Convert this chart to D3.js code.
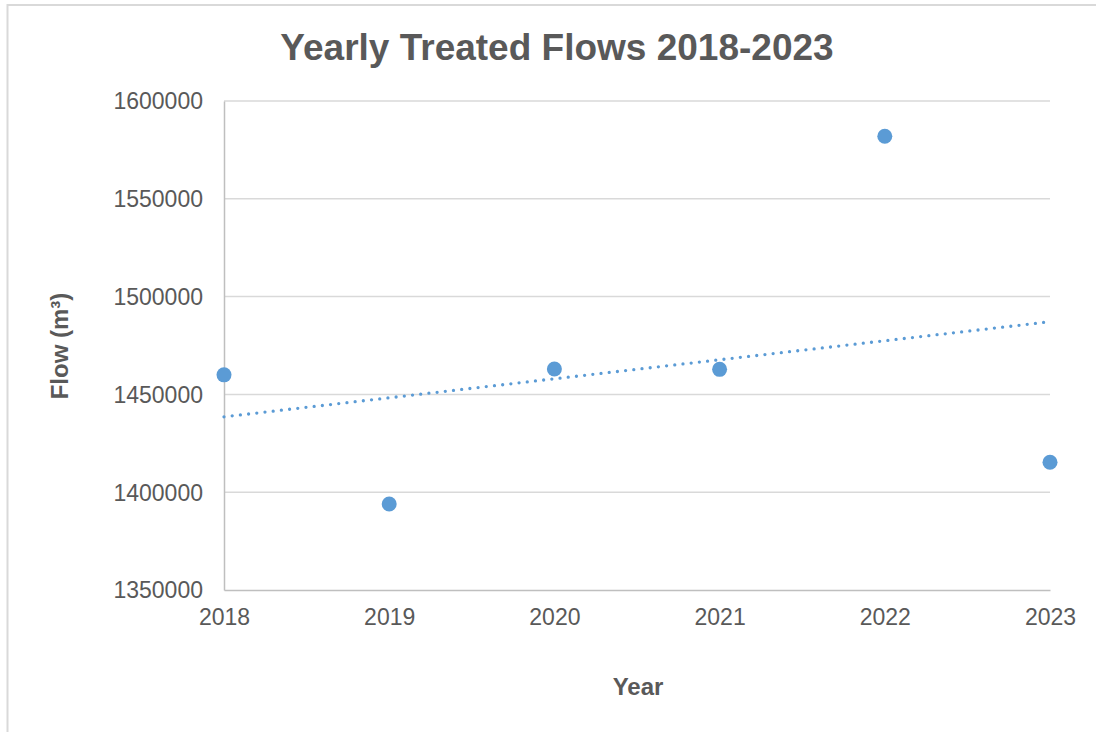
<!DOCTYPE html>
<html>
<head>
<meta charset="utf-8">
<script src="https://cdn.jsdelivr.net/npm/d3@7"></script>
<style>
  html, body { margin: 0; padding: 0; background: #fff; }
  svg { display: block; }
  text { font-family: "Liberation Sans", Arial, sans-serif; }
</style>
</head>
<body>
<svg id="chart" width="1096" height="732"></svg>
<script>
// ---- data ----
const years = [2018, 2019, 2020, 2021, 2022, 2023];
const flows = [1460000, 1394000, 1463000, 1462800, 1582000, 1415300];
const yTicks = [1350000, 1400000, 1450000, 1500000, 1550000, 1600000];
const xTicks = [2018, 2019, 2020, 2021, 2022, 2023];
const titleText = "Yearly Treated Flows 2018-2023";
const xTitle = "Year";
const yTitle = "Flow (m³)";

const svg = d3.select("#chart");
const W = 1096, H = 732;
const plot = { left: 224, right: 1050, top: 101, bottom: 590 };

// chart area border
svg.append("rect")
  .attr("x", 7.5).attr("y", 5).attr("width", W + 20).attr("height", H + 20)
  .attr("fill", "#fff").attr("stroke", "#D9D9D9").attr("stroke-width", 2);

const x = d3.scaleLinear().domain([2018, 2023]).range([plot.left, plot.right]);
const y = d3.scaleLinear().domain([1350000, 1600000]).range([plot.bottom, plot.top]);

// gridlines
svg.append("g").selectAll("line").data(yTicks.filter(t => t !== 1350000)).join("line")
  .attr("x1", plot.left).attr("x2", plot.right)
  .attr("y1", d => y(d)).attr("y2", d => y(d))
  .attr("stroke", "#D9D9D9").attr("stroke-width", 1.5);

// y axis
const yAxis = svg.append("g").attr("transform", `translate(${plot.left},0)`)
  .call(d3.axisLeft(y).tickValues(yTicks).tickSize(0).tickPadding(21).tickFormat(d3.format("d")));
yAxis.select(".domain").attr("stroke", "#BFBFBF").attr("stroke-width", 1.5);
yAxis.selectAll("text").attr("font-size", 23).attr("fill", "#595959")
  .attr("font-family", "Liberation Sans, Arial, sans-serif").attr("dy", "0.34em");

// x axis
const xAxis = svg.append("g").attr("transform", `translate(0,${plot.bottom})`)
  .call(d3.axisBottom(x).tickValues(xTicks).tickSize(0).tickPadding(19).tickFormat(d3.format("d")));
xAxis.select(".domain").attr("stroke", "#BFBFBF").attr("stroke-width", 1.5);
xAxis.selectAll("text").attr("font-size", 23).attr("fill", "#595959")
  .attr("font-family", "Liberation Sans, Arial, sans-serif");

// linear trendline (least squares from data)
const mx = d3.mean(years), my = d3.mean(flows);
const slope = d3.sum(years.map((v, i) => (v - mx) * (flows[i] - my))) / d3.sum(years.map(v => (v - mx) ** 2));
const intercept = my - slope * mx;
const trend = [2018, 2023].map(v => [v, intercept + slope * v]);
svg.append("path")
  .datum(trend)
  .attr("d", d3.line().x(d => x(d[0])).y(d => y(d[1])))
  .attr("fill", "none").attr("stroke", "#5B9BD5").attr("stroke-width", 3.3)
  .attr("stroke-linecap", "round").attr("stroke-dasharray", "0 8.25");

// points
svg.append("g").selectAll("circle").data(years).join("circle")
  .attr("cx", d => x(d)).attr("cy", (d, i) => y(flows[i]))
  .attr("r", 7.5).attr("fill", "#5B9BD5");

// titles
svg.append("text").attr("x", 557).attr("y", 60).attr("text-anchor", "middle")
  .attr("font-size", 37).attr("font-weight", "bold").attr("fill", "#595959").text(titleText);
svg.append("text").attr("x", 638).attr("y", 695).attr("text-anchor", "middle")
  .attr("font-size", 24).attr("font-weight", "bold").attr("fill", "#595959").text(xTitle);
svg.append("text").attr("transform", "translate(68,346) rotate(-90)").attr("text-anchor", "middle")
  .attr("font-size", 24).attr("font-weight", "bold").attr("fill", "#595959").text(yTitle);
</script>
</body>
</html>
